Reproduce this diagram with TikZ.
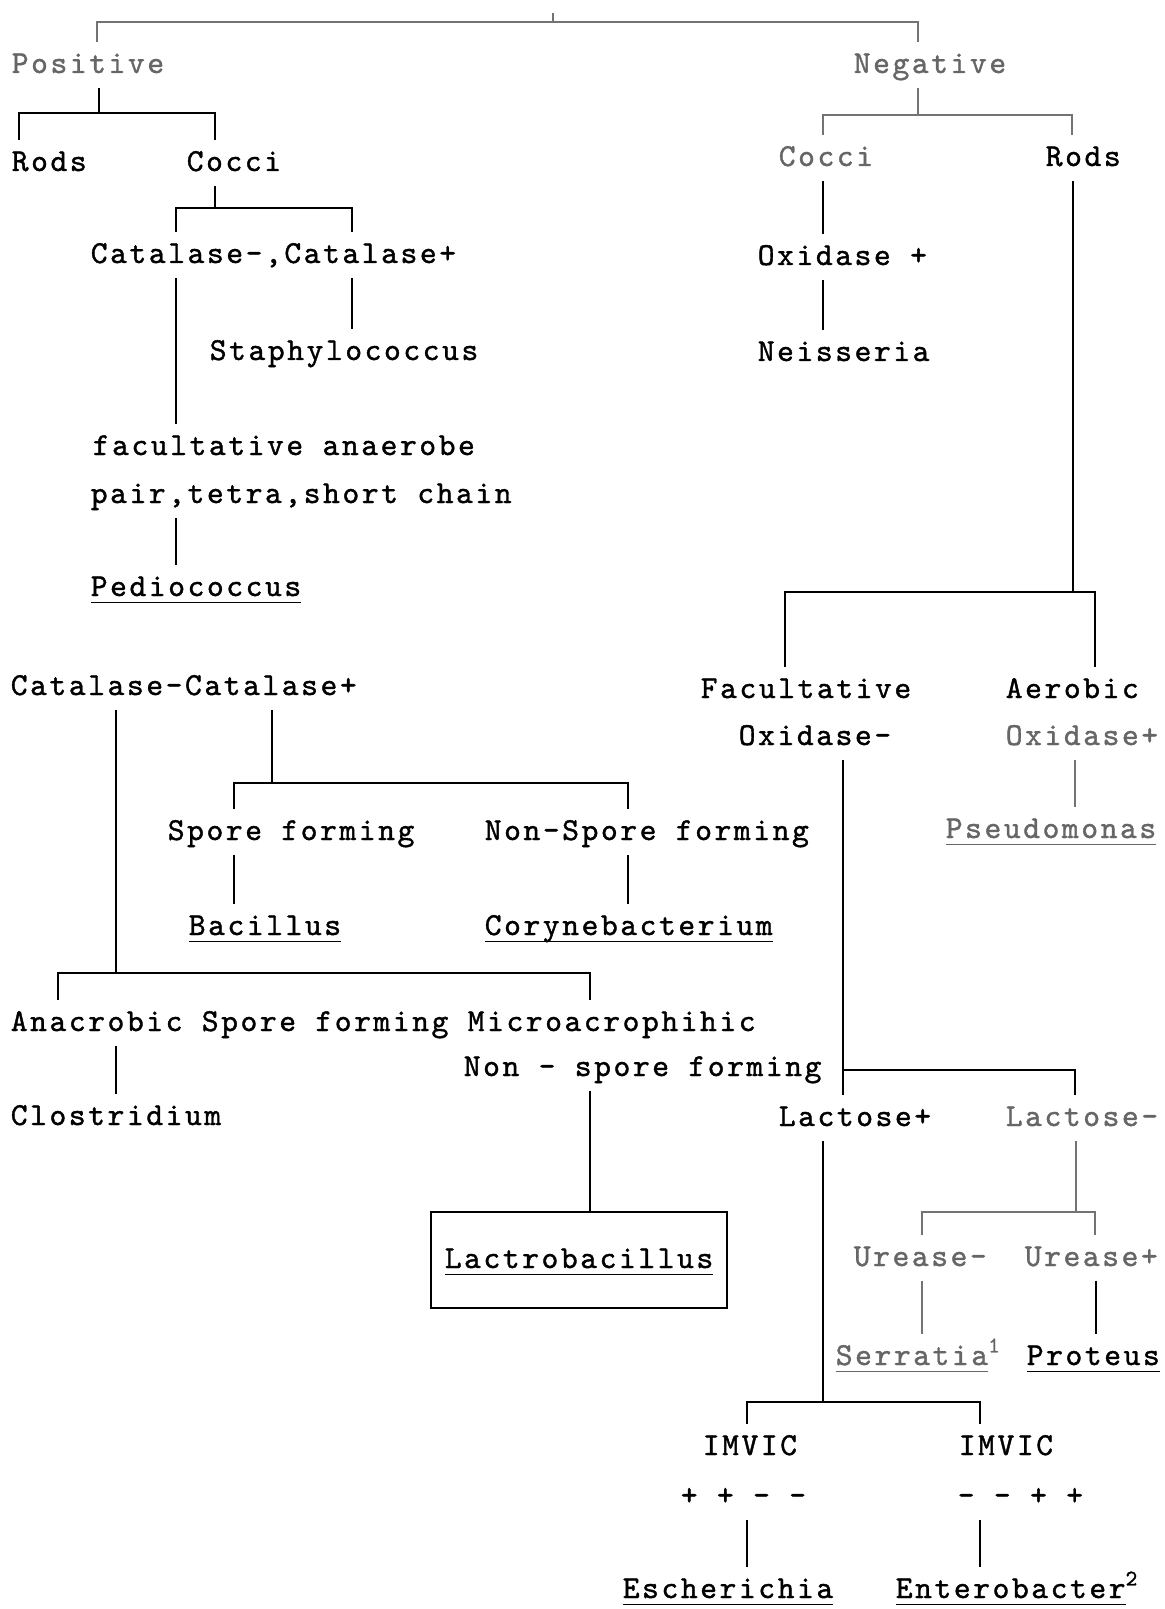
\documentclass[tikz,border=0pt]{standalone}
\usepackage{fontspec}
\setmonofont{lmmono10-regular.otf}[LetterSpace=8, FakeBold=1.2]
\newcommand{\genus}[1]{\underline{\smash{#1}\rule[-2pt]{0pt}{0pt}}}

\begin{document}
\begin{tikzpicture}[x=0.5pt, y=-0.5pt, line width=0.8pt,
  taxon/.style={anchor=west, inner xsep=0pt, inner ysep=4pt, text height=11pt, text depth=3pt,
    font=\ttfamily\fontsize{16}{19}\selectfont},
  faint/.style={text=black!60},
  faintline/.style={draw=black!55}]
  \useasboundingbox (0,0) rectangle (1165,1609);

  % gram stain
  \coordinate (root) at (553,13);
  \node[taxon, faint] (pos) at (11,65) {Positive};
  \node[taxon, faint] (neg) at (853,65) {Negative};

  % positive side
  \node[taxon] (rodsP) at (11,163) {Rods};
  \node[taxon] (cocciP) at (186,163) {Cocci};
  \node[taxon] (catA) at (90,255) {Catalase-,Catalase+};
  \node[taxon] (staph) at (209,352) {Staphylococcus};
  \node[taxon] (facA) at (92,447) {facultative anaerobe};
  \node[taxon] (pair) at (90,495) {pair,tetra,short chain};
  \node[taxon] (pedio) at (90,588) {\genus{Pediococcus}};
  \node[taxon] (catB) at (10,687) {Catalase-Catalase+};
  \node[taxon] (spore) at (167,832) {Spore forming};
  \node[taxon] (nonspore) at (484,832) {Non-Spore forming};
  \node[taxon] (bacil) at (188,927) {\genus{Bacillus}};
  \node[taxon] (coryne) at (484,927) {\genus{Corynebacterium}};
  \node[taxon] (anaer) at (10,1023) {Anacrobic Spore forming Microacrophihic};
  \node[taxon] (nonsp2) at (463,1068) {Non - spore forming};
  \node[taxon] (clost) at (10,1117) {Clostridium};
  \node[taxon, draw, anchor=center, minimum width=148pt, minimum height=48pt] (lactro) at (579,1260) {\genus{Lactrobacillus}};

  % negative side
  \node[taxon, faint] (cocciN) at (778,158) {Cocci};
  \node[taxon] (rodsN) at (1045,158) {Rods};
  \node[taxon] (oxP) at (757,257) {Oxidase +};
  \node[taxon] (neis) at (757,353) {Neisseria};
  \node[taxon] (facult) at (700,690) {Facultative};
  \node[taxon] (aerob) at (1005,690) {Aerobic};
  \node[taxon] (oxM) at (738,737) {Oxidase-};
  \node[taxon, faint] (oxPl) at (1005,737) {Oxidase+};
  \node[taxon, faint] (pseudo) at (945,830) {\genus{Pseudomonas}};
  \node[taxon] (lacP) at (778,1118) {Lactose+};
  \node[taxon, faint] (lacM) at (1005,1118) {Lactose-};
  \node[taxon, faint] (ureM) at (853,1258) {Urease-};
  \node[taxon, faint] (ureP) at (1024,1258) {Urease+};
  \node[taxon, faint] (serr) at (835,1357) {\genus{Serratia}\textsuperscript{1}};
  \node[taxon] (prot) at (1026,1357) {\genus{Proteus}};
  \node[taxon] (imvA) at (702,1447) {IMVIC};
  \node[taxon] (imvB) at (958,1447) {IMVIC};
  \node[taxon] (pmA) at (680,1497) {+ + - -};
  \node[taxon] (pmB) at (957,1497) {- - + +};
  \node[taxon] (esch) at (622,1590) {\genus{Escherichia}};
  \node[taxon] (entero) at (895,1590) {\genus{Enterobacter}\textsuperscript{2}};

  \coordinate (jLac) at (843,1070);

  % brackets, top
  \draw[faintline] (root) -- (553,22);
  \draw[faintline] (97,0 |- pos.north) |- (918,22) -- (918,0 |- neg.north);

  % positive
  \draw (99,0 |- pos.south) -- (99,113);
  \draw (19,0 |- rodsP.north) |- (215,113) -- (215,0 |- cocciP.north);
  \draw (215,0 |- cocciP.south) -- (215,208);
  \draw (176,0 |- catA.north) |- (352,208) -- (352,0 |- catA.north);
  \draw (352,0 |- catA.south) -- (352,0 |- staph.north);
  \draw (176,0 |- catA.south) -- (176,0 |- facA.north);
  \draw (176,0 |- pair.south) -- (176,0 |- pedio.north);
  \draw (272,0 |- catB.south) -- (272,783);
  \draw (234,0 |- spore.north) |- (628,783) -- (628,0 |- nonspore.north);
  \draw (234,0 |- spore.south) -- (234,0 |- bacil.north);
  \draw (628,0 |- nonspore.south) -- (628,0 |- coryne.north);
  \draw (116,0 |- catB.south) -- (116,973);
  \draw (58,0 |- anaer.north) |- (590,973) -- (590,0 |- anaer.north);
  \draw (116,0 |- anaer.south) -- (116,0 |- clost.north);
  \draw (590,0 |- nonsp2.south) -- (590,0 |- lactro.north);

  % negative
  \draw[faintline] (918,0 |- neg.south) -- (918,115);
  \draw[faintline] (823,0 |- cocciN.north) |- (1072,115) -- (1072,0 |- rodsN.north);
  \draw (823,0 |- cocciN.south) -- (823,0 |- oxP.north);
  \draw (823,0 |- oxP.south) -- (823,0 |- neis.north);
  \draw (1073,0 |- rodsN.south) -- (1073,592);
  \draw (785,0 |- facult.north) |- (1095,592) -- (1095,0 |- aerob.north);
  \draw[faintline] (1075,0 |- oxPl.south) -- (1075,0 |- pseudo.north);
  \draw (843,0 |- oxM.south) -- (843,0 |- lacP.north);
  \draw (jLac) -| (1075,0 |- lacM.north);
  \draw[faintline] (1076,0 |- lacM.south) -- (1076,1212);
  \draw[faintline] (922,0 |- ureM.north) |- (1095,1212) -- (1095,0 |- ureP.north);
  \draw[faintline] (922,0 |- ureM.south) -- (922,0 |- serr.north);
  \draw (1096,0 |- ureP.south) -- (1096,0 |- prot.north);
  \draw (823,0 |- lacP.south) -- (823,1402);
  \draw (747,0 |- imvA.north) |- (980,1402) -- (980,0 |- imvB.north);
  \draw (747,0 |- pmA.south) -- (747,0 |- esch.north);
  \draw (980,0 |- pmB.south) -- (980,0 |- entero.north);
\end{tikzpicture}
\end{document}
